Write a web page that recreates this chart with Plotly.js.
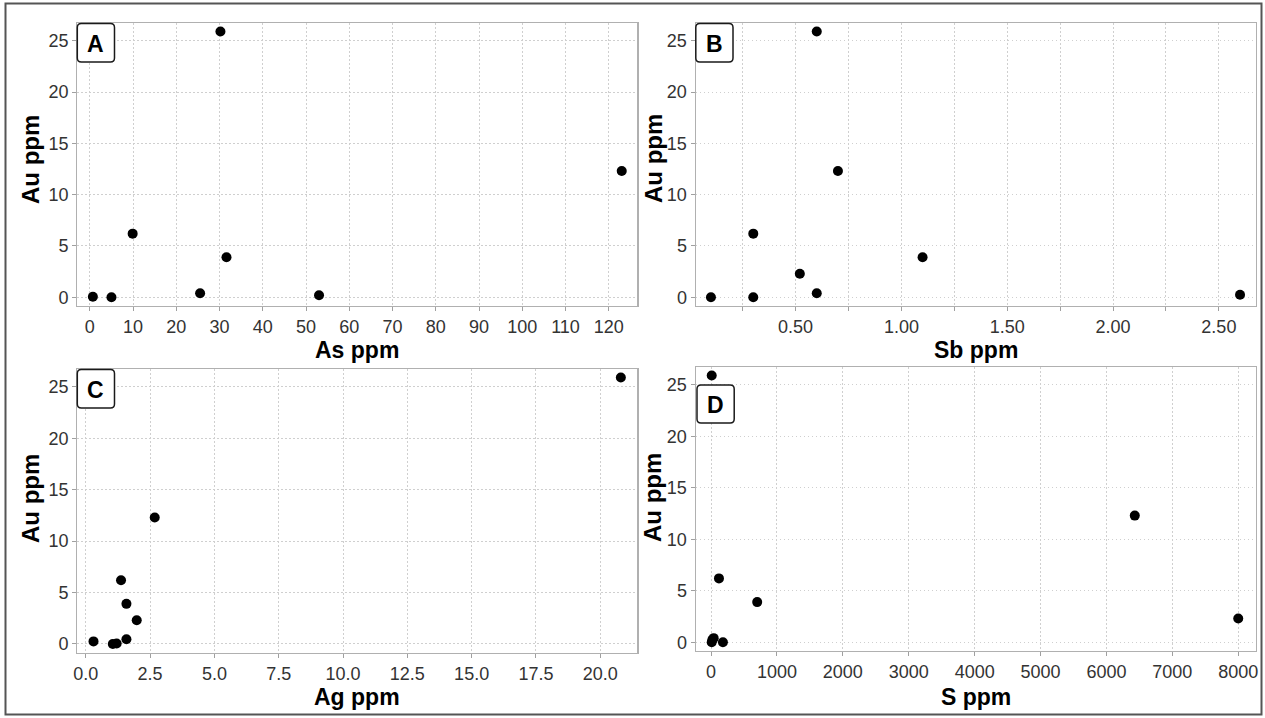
<!DOCTYPE html>
<html>
<head>
<meta charset="utf-8">
<script src="https://cdn.plot.ly/plotly-3.0.1.min.js"></script>
<style>
  html, body { margin: 0; padding: 0; background: #ffffff; }
  #chart { width: 1265px; height: 718px; }
</style>
</head>
<body>
<div id="chart"></div>
<script>
// ---- Data ----
const auTicks = [0, 5, 10, 15, 20, 25];

const asPpm = [0.7, 5.0, 9.9, 25.5, 30.2, 31.6, 53.0, 123.0];
const auA   = [0.05, 0.0, 6.2, 0.4, 25.9, 3.9, 0.2, 12.3];

const sbPpm = [0.1, 0.3, 0.3, 0.52, 0.6, 0.6, 0.7, 1.1, 2.6];
const auB   = [0.0, 6.2, 0.0, 2.3, 25.9, 0.4, 12.3, 3.9, 0.25];

const agPpm = [0.3, 1.05, 1.2, 1.37, 1.58, 1.58, 1.98, 2.68, 20.8];
const auC   = [0.25, 0.0, 0.05, 6.2, 3.9, 0.45, 2.3, 12.3, 25.9];

const sPpm  = [10, 20, 40, 180, 10, 120, 700, 6430, 8000];
const auD   = [0.0, 0.25, 0.4, 0.0, 25.9, 6.2, 3.9, 12.3, 2.3];

const panelLabels = ['A', 'B', 'C', 'D'];
const xTitles = ['As ppm', 'Sb ppm', 'Ag ppm', 'S ppm'];
const yTitle = 'Au ppm';

// ---- Layout helpers (pixel -> paper) ----
const W = 1265, H = 718;
const px = v => v / W;
const py = v => 1 - v / H;

const FONT = '"Liberation Sans", Arial, Helvetica, sans-serif';

// plot area rectangles in px: [left, right, top, bottom]
const boxes = [
  [77.3, 637.3, 23.3, 306.0],
  [695.7, 1255.7, 23.3, 306.0],
  [77.3, 637.3, 369.3, 652.7],
  [695.7, 1255.7, 367.3, 651.0]
];

const xRanges = [[-2.9, 126.6], [0.028, 2.674], [-0.33, 21.44], [-233, 8265]];
const xDticks = [10, 0.5, 2.5, 1000];
const xFormats = ['', '.2f', '.1f', ''];
const yRange = [-0.85, 26.7];

const xs = [asPpm, sbPpm, agPpm, sPpm];
const ys = [auA, auB, auC, auD];

const GRID = '#cfcfcf';
const GRIDDASH = '1.5px,2.5px';

const traces = [];
const layout = {
  width: W, height: H,
  margin: {l: 0, r: 0, t: 0, b: 0},
  paper_bgcolor: '#ffffff',
  plot_bgcolor: '#ffffff',
  showlegend: false,
  font: {family: FONT, size: 18, color: '#333333'},
  annotations: [],
  shapes: []
};

function axisCommon() {
  return {
    showline: true, mirror: true, linecolor: '#b0b0b0', linewidth: 1.2,
    showgrid: true, gridcolor: GRID, gridwidth: 1, griddash: GRIDDASH,
    zeroline: false,
    ticks: 'outside', ticklen: 4, tickwidth: 1, tickcolor: '#a0a0a0',
    tickfont: {family: FONT, size: 18, color: '#333333'},
    fixedrange: true
  };
}

for (let i = 0; i < 4; i++) {
  const n = i + 1;
  const xa = 'xaxis' + (n === 1 ? '' : n);
  const ya = 'yaxis' + (n === 1 ? '' : n);
  const b = boxes[i];

  traces.push({
    type: 'scatter', mode: 'markers',
    x: xs[i], y: ys[i],
    xaxis: 'x' + (n === 1 ? '' : n), yaxis: 'y' + (n === 1 ? '' : n),
    marker: {color: '#000000', size: 10, line: {width: 0}},
    hoverinfo: 'x+y'
  });

  const xax = Object.assign(axisCommon(), {
    domain: [px(b[0]), px(b[1])],
    anchor: 'y' + (n === 1 ? '' : n),
    range: xRanges[i],
    tick0: 0, dtick: xDticks[i],
    tickformat: xFormats[i]
  });
  if (i === 1) {
    xax.minor = {dtick: 0.25, tick0: 0, showgrid: true, gridcolor: GRID,
                 griddash: GRIDDASH, gridwidth: 1, ticks: 'outside', ticklen: 4, tickcolor: '#a0a0a0'};
  }
  const yax = Object.assign(axisCommon(), {
    domain: [py(b[3]), py(b[2])],
    anchor: 'x' + (n === 1 ? '' : n),
    range: yRange,
    tickvals: auTicks
  });
  layout[xa] = xax;
  layout[ya] = yax;

  // x axis title
  const xTitleY = [350, 350, 697, 697][i];
  layout.annotations.push({
    xref: 'paper', yref: 'paper',
    x: px((b[0] + b[1]) / 2), y: py(xTitleY),
    xanchor: 'center', yanchor: 'middle',
    text: xTitles[i], showarrow: false,
    font: {family: FONT, size: 23, color: '#000000', weight: 700}
  });
  // y axis title
  const yTitlePos = [[31, 160], [653, 159], [30, 498], [652, 498]][i];
  layout.annotations.push({
    xref: 'paper', yref: 'paper',
    x: px(yTitlePos[0]), y: py(yTitlePos[1]),
    xanchor: 'center', yanchor: 'middle',
    text: yTitle, textangle: -90, showarrow: false,
    font: {family: FONT, size: 24, color: '#000000', weight: 700}
  });
}

// Panel label boxes (rounded rectangles) and letters
const labelBoxes = [
  [77.3, 114.5, 23.5, 62],
  [695.8, 733, 23.5, 62],
  [77.3, 114.5, 369.5, 408],
  [697, 734.2, 385, 423]
];
function roundedPath(x0, x1, y0, y1, r) {
  const X = v => px(v).toFixed(5), Y = v => py(v).toFixed(5);
  return 'M' + X(x0 + r) + ',' + Y(y0) +
    ' L' + X(x1 - r) + ',' + Y(y0) +
    ' Q' + X(x1) + ',' + Y(y0) + ' ' + X(x1) + ',' + Y(y0 + r) +
    ' L' + X(x1) + ',' + Y(y1 - r) +
    ' Q' + X(x1) + ',' + Y(y1) + ' ' + X(x1 - r) + ',' + Y(y1) +
    ' L' + X(x0 + r) + ',' + Y(y1) +
    ' Q' + X(x0) + ',' + Y(y1) + ' ' + X(x0) + ',' + Y(y1 - r) +
    ' L' + X(x0) + ',' + Y(y0 + r) +
    ' Q' + X(x0) + ',' + Y(y0) + ' ' + X(x0 + r) + ',' + Y(y0) + ' Z';
}
labelBoxes.forEach((lb, i) => {
  layout.shapes.push({
    type: 'path', xref: 'paper', yref: 'paper',
    path: roundedPath(lb[0], lb[1], lb[2], lb[3], 4),
    line: {color: '#1a1a1a', width: 1.5},
    fillcolor: '#ffffff', layer: 'above'
  });
  layout.annotations.push({
    xref: 'paper', yref: 'paper',
    x: px((lb[0] + lb[1]) / 2), y: py((lb[2] + lb[3]) / 2 + 1),
    xanchor: 'center', yanchor: 'middle',
    text: panelLabels[i], showarrow: false,
    font: {family: FONT, size: 23, color: '#000000', weight: 700}
  });
});

// Outer figure frame
layout.shapes.push({
  type: 'rect', xref: 'paper', yref: 'paper',
  x0: px(5.5), x1: px(1261.5), y0: py(714.5), y1: py(3.5),
  line: {color: '#555555', width: 2}, fillcolor: 'rgba(0,0,0,0)', layer: 'below'
});

Plotly.newPlot('chart', traces, layout, {staticPlot: true, displayModeBar: false});
</script>
</body>
</html>
